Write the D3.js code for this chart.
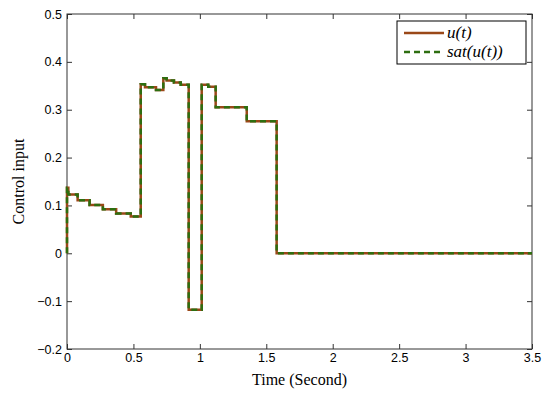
<!DOCTYPE html>
<html>
<head>
<meta charset="utf-8">
<script src="https://cdn.jsdelivr.net/npm/d3@7"></script>
<style>
  body { margin: 0; background: #fff; }
  svg { display: block; }
</style>
</head>
<body>
<div id="chart"></div>
<script>
// Step signal: breakpoints (seconds) and the value held from each one
const stepTimes = [0, 0.01, 0.08, 0.17, 0.27, 0.37, 0.48, 0.555, 0.587, 0.67, 0.725, 0.75, 0.805, 0.856, 0.916, 1.014, 1.063, 1.119, 1.353, 1.578, 3.5]
const stepValues = [0.137, 0.123, 0.111, 0.101, 0.092, 0.083, 0.077, 0.353, 0.347, 0.341, 0.366, 0.361, 0.357, 0.352, -0.118, 0.352, 0.348, 0.305, 0.276, 0, 0]

const xTicks = [0, 0.5, 1, 1.5, 2, 2.5, 3, 3.5]
const yTicks = [-0.2, -0.1, 0, 0.1, 0.2, 0.3, 0.4, 0.5]
const seriesNames = ['u(t)', 'sat(u(t))']

const width = 550
const height = 398
const margin = { top: 14, right: 18, bottom: 49, left: 67 }

const svg = d3.select('#chart').append('svg')
  .attr('width', width)
  .attr('height', height)

const x = d3.scaleLinear().domain([0, 3.5]).range([margin.left, width - margin.right])
const y = d3.scaleLinear().domain([-0.2, 0.5]).range([height - margin.bottom, margin.top])

// start at zero, then hold each value until the next breakpoint
let points = [[0, 0]]
stepTimes.forEach((t, i) => points.push([t, stepValues[i]]))

const line = d3.line()
  .x(d => x(d[0]))
  .y(d => y(d[1]))
  .curve(d3.curveStepAfter)

const axisColor = '#333'
const tickFont = '"Liberation Sans", Arial, sans-serif'

// Axes (ticks inside, box on all sides)
const axisStyle = g => {
  g.select('.domain').remove()
  g.selectAll('.tick line').attr('stroke', axisColor)
  g.selectAll('.tick text')
    .attr('fill', '#000')
    .style('font-family', tickFont)
    .style('font-size', '12.5px')
}

svg.append('g')
  .attr('transform', `translate(0,${y(-0.2)})`)
  .call(d3.axisBottom(x).tickValues(xTicks).tickSizeInner(-5).tickSizeOuter(0).tickPadding(4).tickFormat(d3.format('')))
  .call(axisStyle)

svg.append('g')
  .attr('transform', `translate(0,${y(0.5)})`)
  .call(d3.axisTop(x).tickValues(xTicks).tickSizeInner(-5).tickSizeOuter(0).tickFormat(''))
  .call(axisStyle)

svg.append('g')
  .attr('transform', `translate(${x(0)},0)`)
  .call(d3.axisLeft(y).tickValues(yTicks).tickSizeInner(-5).tickSizeOuter(0).tickPadding(5).tickFormat(d => d === 0 ? '0' : d3.format('.1f')(d).replace('-', '\u2212')))
  .call(axisStyle)

svg.append('g')
  .attr('transform', `translate(${x(3.5)},0)`)
  .call(d3.axisRight(y).tickValues(yTicks).tickSizeInner(-5).tickSizeOuter(0).tickFormat(''))
  .call(axisStyle)

svg.append('rect')
  .attr('x', x(0))
  .attr('y', y(0.5))
  .attr('width', x(3.5) - x(0))
  .attr('height', y(-0.2) - y(0.5))
  .attr('fill', 'none')
  .attr('stroke', axisColor)
  .attr('stroke-width', 1)

// Series
const uColor = '#9a4818'
const satColor = '#2d6e10'

svg.append('path')
  .datum(points)
  .attr('d', line)
  .attr('fill', 'none')
  .attr('stroke', uColor)
  .attr('stroke-width', 2.5)

svg.append('path')
  .datum(points)
  .attr('d', line)
  .attr('fill', 'none')
  .attr('stroke', satColor)
  .attr('stroke-width', 2.5)
  .attr('stroke-dasharray', '6,4')

// Axis labels
const serif = '"Liberation Serif", "Times New Roman", serif'
svg.append('text')
  .attr('x', (x(0) + x(3.5)) / 2)
  .attr('y', 385)
  .attr('text-anchor', 'middle')
  .style('font-family', serif)
  .style('font-size', '16px')
  .text('Time (Second)')

svg.append('text')
  .attr('transform', `translate(24,${(y(0.5) + y(-0.2)) / 2}) rotate(-90)`)
  .attr('text-anchor', 'middle')
  .style('font-family', serif)
  .style('font-size', '16px')
  .text('Control input')

// Legend
const legend = svg.append('g').attr('transform', 'translate(397,21)')
legend.append('rect')
  .attr('width', 129)
  .attr('height', 43)
  .attr('fill', '#fff')
  .attr('stroke', '#000')
  .attr('stroke-width', 1)

const legendStyles = [
  { stroke: uColor, dash: null },
  { stroke: satColor, dash: '6,4' }
]
seriesNames.forEach((name, i) => {
  const ly = 12 + i * 19
  legend.append('line')
    .attr('x1', 7).attr('x2', 47)
    .attr('y1', ly).attr('y2', ly)
    .attr('stroke', legendStyles[i].stroke)
    .attr('stroke-width', 2.5)
    .attr('stroke-dasharray', legendStyles[i].dash)
  legend.append('text')
    .attr('x', 50)
    .attr('y', ly + 5)
    .style('font-family', serif)
    .style('font-style', 'italic')
    .style('font-size', '17px')
    .text(name)
})
</script>
</body>
</html>
